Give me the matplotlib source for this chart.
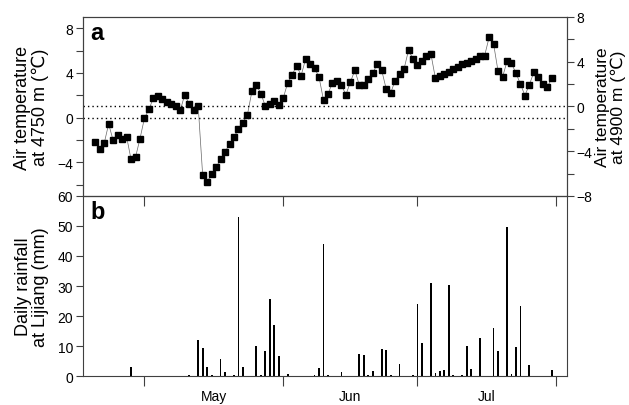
import numpy as np
import matplotlib
matplotlib.use('Agg')
import matplotlib.pyplot as plt

plt.rcParams['font.family'] = ['Liberation Sans', 'DejaVu Sans']

# days counted from 1 May (0 = 1 May)
temp_start = -11
temp_4750 = [-2.16, -2.8, -2.28, -0.56, -2.04, -1.57, -1.87, -1.69, -3.73, -3.53,
             -1.87, -0.03, 0.74, 1.78, 1.9, 1.63, 1.39, 1.24, 1.04, 0.65,
             2.07, 1.18, 0.65, 1.04, -5.13, -5.75, -5.04, -4.44, -3.73, -3.05,
             -2.37, -1.72, -1.04, -0.44, 0.27, 2.34, 2.93, 2.16, 1.04, 1.18,
             1.45, 1.16, 1.75, 3.11, 3.85, 4.65, 3.76, 5.24, 4.83, 4.44,
             3.62, 1.57, 2.13, 3.11, 3.32, 2.93, 2.04, 3.17, 4.24, 2.93,
             2.93, 3.47, 3.97, 4.8, 4.24, 2.58, 2.2, 3.32, 3.91, 4.36,
             6.04, 5.24, 4.71, 5.1, 5.48, 5.69, 3.53, 3.7, 3.91, 4.12,
             4.36, 4.56, 4.77, 4.92, 5.04, 5.24, 5.55, 5.55, 7.17, 6.6,
             4.15, 3.62, 5.04, 4.86, 3.97, 3.02, 1.98, 2.96, 4.06, 3.62,
             3.02, 2.73, 3.53]
temp_days = np.arange(temp_start, temp_start + len(temp_4750))

rain_days = [-3, 10, 12, 13, 14, 15, 17, 18, 20, 21, 22, 25, 26, 27, 28, 29, 30, 32,
             38, 39, 40, 41, 44, 48, 49, 50, 51, 53, 54, 55, 57, 60, 61, 62, 64,
             65, 66, 67, 68, 69, 71, 72, 73, 75, 78, 79, 81, 82, 83, 84, 86, 91]
rain_mm = [3.1, 0.4, 12, 9.2, 3, 0.5, 5.7, 1.5, 0.3, 52.9, 2.9, 10.1, 0.3, 8.2, 25.7, 17, 6.8, 0.6,
           0.3, 2.6, 44, 0.3, 1.5, 7.3, 6.9, 0.3, 1.7, 8.9, 8.6, 0.3, 4, 0.3, 23.9, 11.1, 31.1,
           1, 1.8, 2.1, 30.4, 0.3, 0.2, 10, 2.2, 12.7, 16, 8.2, 49.8, 0.6, 9.7, 23.4, 3.6, 1.9]

month_ticks = [0, 31, 61, 92]
month_centers = [15.5, 46, 76.5]
month_names = ['May', 'Jun', 'Jul']

spine_c = '#404040'

fig = plt.figure(figsize=(6.29, 4.06), dpi=100)
ax1 = fig.add_axes([0.1315, 0.5148, 0.7699, 0.4409])
ax2 = fig.add_axes([0.1315, 0.0714, 0.7699, 0.4434])

# ---- panel a
ax1.plot(temp_days, temp_4750, '-', color='#666666', lw=0.5, zorder=2)
ax1.plot(temp_days, temp_4750, 's', color='black', ms=5, zorder=3)
ax1.axhline(0, color='black', ls=(0, (1, 2.2)), lw=1)
ax1.axhline(1, color='black', ls=(0, (1, 2.2)), lw=1)
ax1.set_xlim(-13.8, 94.4)
ax1.set_ylim(-7, 9)
ax1.set_yticks([-4, 0, 4, 8])
ax1.set_yticks([-6, -2, 2, 6], minor=True)
ax1.set_xticks(month_ticks)
ax1.set_xticklabels([])
ax1.set_ylabel('Air temperature\nat 4750 m (℃)', fontsize=13, linespacing=1.0, labelpad=6)
ax1.text(0.015, 0.975, 'a', transform=ax1.transAxes, fontsize=17, fontweight='bold',
         va='top', ha='left')

ax1r = ax1.twinx()
ax1r.set_ylim(-8, 8)
ax1r.set_yticks([-8, -4, 0, 4, 8])
ax1r.set_yticks([-6, -2, 2, 6], minor=True)
ax1r.set_ylabel('Air temperature\nat 4900 m (℃)', fontsize=12.5, linespacing=1.0,
                rotation=90, labelpad=2)

# ---- panel b
ax2.bar(rain_days, rain_mm, width=0.4, color='black')
ax2.set_xlim(-13.8, 94.4)
ax2.set_ylim(0, 60)
ax2.set_yticks(np.arange(0, 61, 10))
ax2.set_xticks(month_ticks)
ax2.set_xticklabels([])
ax2.set_xticks(month_centers, minor=True)
ax2.set_xticklabels(month_names, minor=True)
ax2.tick_params(axis='x', which='minor', length=0, pad=9)
ax2.set_ylabel('Daily rainfall\nat Lijiang (mm)', fontsize=13, linespacing=1.0, labelpad=6)
ax2.text(0.015, 0.975, 'b', transform=ax2.transAxes, fontsize=17, fontweight='bold',
         va='top', ha='left')

for ax in (ax1, ax1r, ax2):
    for s in ax.spines.values():
        s.set_color(spine_c)
        s.set_linewidth(0.8)
    ax.tick_params(which='both', direction='out', color=spine_c, labelsize=10, width=0.8)
    ax.tick_params(axis='y', which='both', length=5, pad=2)
ax1.tick_params(axis='x', which='major', length=7)
ax2.tick_params(axis='x', which='major', length=7)
ax1.set_zorder(ax1r.get_zorder() + 1)
ax1.patch.set_visible(False)

fig.savefig('out.png', dpi=100)
